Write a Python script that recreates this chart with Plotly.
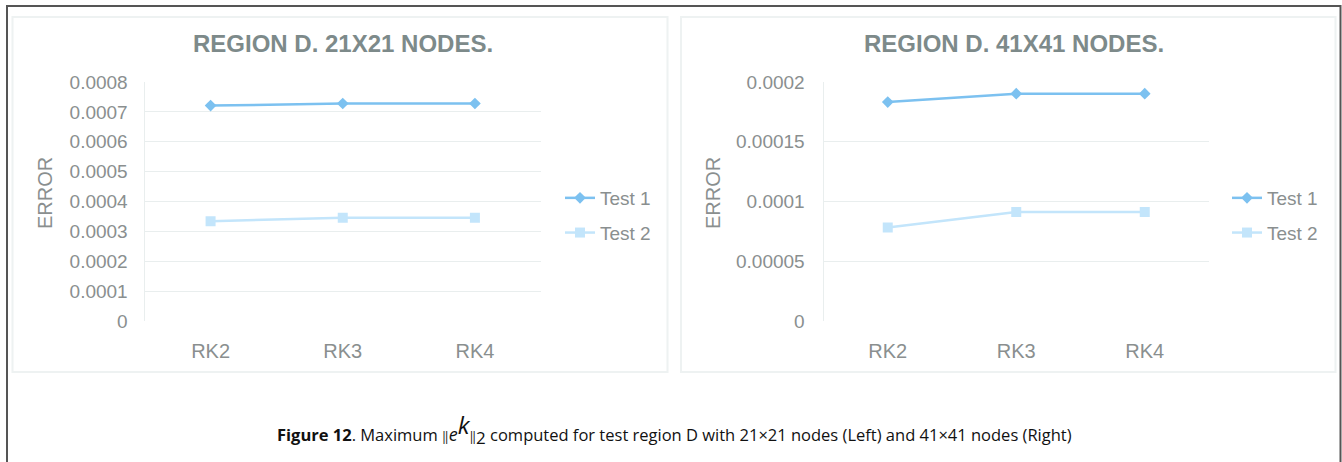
import plotly.graph_objects as go

# Runge-Kutta schemes compared
methods = ["RK2", "RK3", "RK4"]

# Maximum error, 21x21 nodes
err21_test1 = [0.000721, 0.000728, 0.000728]
err21_test2 = [0.000334, 0.000346, 0.000346]

# Maximum error, 41x41 nodes
err41_test1 = [0.0001832, 0.0001902, 0.0001902]
err41_test2 = [0.0000782, 0.0000913, 0.0000913]

series_names = ["Test 1", "Test 2"]
panel_titles = ["REGION D. 21X21 NODES.", "REGION D. 41X41 NODES."]
y_ticks_21 = [0, 0.0001, 0.0002, 0.0003, 0.0004, 0.0005, 0.0006, 0.0007, 0.0008]
y_ticks_41 = [0, 0.00005, 0.0001, 0.00015, 0.0002]

W, H = 1342, 462
FONT = "Liberation Sans, Arial, sans-serif"
C1 = "#7cc1f0"
C2 = "#c3e5fb"
GRID = "#e9eeee"
TICK = "#8a8f8f"
TITLE = "#7d8a8a"


def px(x):
    return x / W


def py(y):
    return 1 - y / H


fig = go.Figure()

panels = [
    dict(xa="x", ya="y", leg="legend", data=(err21_test1, err21_test2)),
    dict(xa="x2", ya="y2", leg="legend2", data=(err41_test1, err41_test2)),
]
for p in panels:
    for name, vals, color, sym in zip(series_names, p["data"], [C1, C2], ["diamond", "square"]):
        fig.add_trace(go.Scatter(
            x=methods, y=vals, name=name, mode="lines+markers",
            xaxis=p["xa"], yaxis=p["ya"], legend=p["leg"], legendgroup=p["leg"] + name,
            line=dict(color=color, width=2.5),
            marker=dict(symbol=sym, size=9 if sym == "diamond" else 10, color=color),
        ))

axis_common = dict(
    showgrid=False, zeroline=False, showline=False, ticks="", automargin=False,
    tickfont=dict(family=FONT, size=20, color=TICK), fixedrange=True,
)
y_common = dict(
    showgrid=True, gridcolor=GRID, gridwidth=1, zeroline=False, automargin=False,
    showline=True, linecolor=GRID, linewidth=1, ticks="",
    tickfont=dict(family=FONT, size=19, color=TICK), fixedrange=True,
)

ydom = [py(321), py(82)]
fig.update_layout(
    width=W, height=H, autosize=False,
    margin=dict(l=0, r=0, t=0, b=0, pad=0, autoexpand=False),
    paper_bgcolor="white", plot_bgcolor="white",
    xaxis=dict(domain=[px(144.5), px(541)], anchor="y", range=[-0.5, 2.5],
               ticklabelstandoff=16, **axis_common),
    yaxis=dict(domain=ydom, anchor="x", range=[0, 0.0008],
               tickvals=y_ticks_21, tickformat=".4~f", ticklabelstandoff=12, **y_common),
    xaxis2=dict(domain=[px(823.5), px(1209)], anchor="y2", range=[-0.5, 2.5],
                ticklabelstandoff=16, **axis_common),
    yaxis2=dict(domain=ydom, anchor="x2", range=[0, 0.0002],
                tickvals=y_ticks_41, tickformat=".5~f", ticklabelstandoff=14, **y_common),
    legend=dict(x=px(560), y=py(215.5), xanchor="left", yanchor="middle",
                font=dict(family=FONT, size=19, color=TICK), bgcolor="rgba(0,0,0,0)",
                traceorder="grouped", tracegroupgap=7),
    legend2=dict(x=px(1227), y=py(215.5), xanchor="left", yanchor="middle",
                 font=dict(family=FONT, size=19, color=TICK), bgcolor="rgba(0,0,0,0)",
                 traceorder="grouped", tracegroupgap=7),
    showlegend=True,
)

frame = dict(color="#555555", width=2)
panel_line = dict(color="#eef2f2", width=2)
shapes = [
    # outer frame: top, left and right edges
    dict(type="line", xref="paper", yref="paper", x0=px(6), x1=px(1341), y0=py(6), y1=py(6), line=frame),
    dict(type="line", xref="paper", yref="paper", x0=px(7), x1=px(7), y0=py(5), y1=0, line=frame),
    dict(type="line", xref="paper", yref="paper", x0=px(1340.5), x1=px(1340.5), y0=py(5), y1=0, line=frame),
    # chart panels
    dict(type="rect", xref="paper", yref="paper", x0=px(12.5), x1=px(667.5), y0=py(372), y1=py(17),
         line=panel_line),
    dict(type="rect", xref="paper", yref="paper", x0=px(681), x1=px(1335.5), y0=py(372), y1=py(17),
         line=panel_line),
]
fig.update_layout(shapes=shapes)


def note(text, x, y, size, color, family=FONT, angle=0):
    return dict(text=text, x=px(x), y=py(y), xref="paper", yref="paper",
                xanchor="center", yanchor="middle", showarrow=False, textangle=angle,
                font=dict(family=family, size=size, color=color))


caption = ("<b>Figure 12</b>. Maximum <span style='font-size:12px'>\u2016</span>"
           "<span style='font-style:italic;font-size:18px'>e</span>"
           "<sup><span style='font-style:italic;font-size:24px'>k</span></sup>"
           "<span style='font-size:12px'>\u2016</span><sub><span style='font-size:17px'>2</span></sub>"
           " computed for test region D with 21\u00d721 nodes (Left) and 41\u00d741 nodes (Right)")

annotations = [
    note("<b>" + panel_titles[0] + "</b>", 343, 43, 24, TITLE),
    note("<b>" + panel_titles[1] + "</b>", 1014, 43, 24, TITLE),
    note("ERROR", 45, 193, 20, TICK, angle=-90),
    note("ERROR", 713, 193, 20, TICK, angle=-90),
    note(caption, 674, 428, 16.5, "#111111", family="Open Sans, Noto Sans, sans-serif"),
]
fig.update_layout(annotations=annotations)

fig.write_html("out.html")
